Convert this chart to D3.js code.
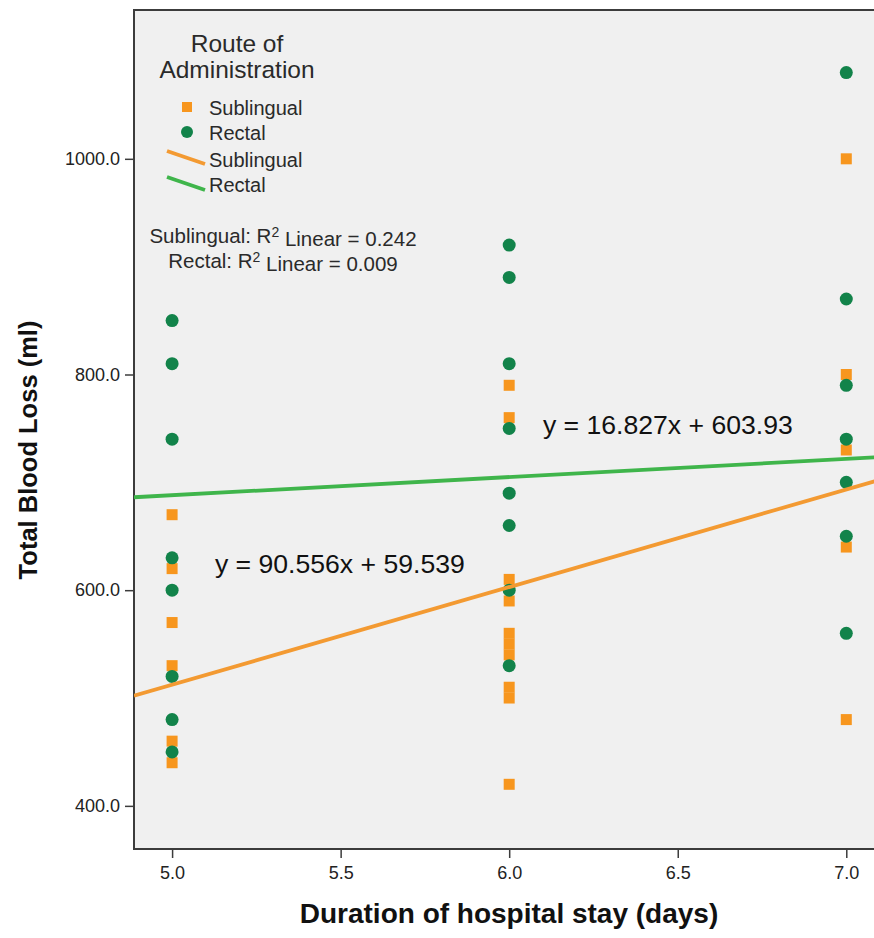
<!DOCTYPE html>
<html>
<head>
<meta charset="utf-8">
<script src="https://cdn.jsdelivr.net/npm/d3@7"></script>
<style>
  html, body { margin: 0; padding: 0; background: #fff; }
  svg { display: block; font-family: "Liberation Sans", Arial, sans-serif; }
</style>
</head>
<body>
<svg id="chart"></svg>
<script>
// values: [days, blood loss ml]
const sublingualPoints = [
  [5, 670], [5, 620], [5, 570], [5, 530], [5, 460], [5, 440],
  [6, 790], [6, 760], [6, 610], [6, 590], [6, 560], [6, 550], [6, 540], [6, 510], [6, 500], [6, 420],
  [7, 1000], [7, 800], [7, 730], [7, 640], [7, 480],
];
const rectalPoints = [
  [5, 850], [5, 810], [5, 740], [5, 630], [5, 600], [5, 520], [5, 480], [5, 450],
  [6, 920], [6, 890], [6, 810], [6, 750], [6, 690], [6, 660], [6, 600], [6, 530],
  [7, 1080], [7, 870], [7, 790], [7, 740], [7, 700], [7, 650], [7, 560],
];
const groups = ['Sublingual', 'Rectal'];
const fitSlopes = [90.556, 16.827];
const fitIntercepts = [59.539, 603.93];
const rSquared = ['0.242', '0.009'];
const xTicks = [5.0, 5.5, 6.0, 6.5, 7.0];
const yTicks = [400, 600, 800, 1000];

const width = 874, height = 938;
const plot = { left: 134, top: 10, right: 890, bottom: 849 };
const orange = '#f7961e', green = '#12834a';
const lineColors = ['#f39a32', '#3fb54b'];

const svg = d3.select('#chart').attr('width', width).attr('height', height);
svg.append('rect').attr('width', width).attr('height', height).attr('fill', '#fff');

const x = d3.scaleLinear([4.887, 7.1], [plot.left, 880]);
const y = d3.scaleLinear([360, 1138], [plot.bottom, plot.top]);

svg.append('rect').attr('x', plot.left).attr('y', plot.top)
  .attr('width', plot.right - plot.left).attr('height', plot.bottom - plot.top)
  .attr('fill', '#f0f0f0').attr('stroke', '#3c3c3c').attr('stroke-width', 2);

svg.append('defs').append('clipPath').attr('id', 'clip')
  .append('rect').attr('x', plot.left).attr('y', plot.top)
  .attr('width', plot.right - plot.left).attr('height', plot.bottom - plot.top);

// axes
const xAxis = svg.append('g').attr('transform', `translate(0,${plot.bottom})`)
  .call(d3.axisBottom(x).tickValues(xTicks).tickFormat(d3.format('.1f')).tickSize(9).tickPadding(8).tickSizeOuter(0));
const yAxis = svg.append('g').attr('transform', `translate(${plot.left},0)`)
  .call(d3.axisLeft(y).tickValues(yTicks).tickFormat(d3.format('.1f')).tickSize(9).tickPadding(5).tickSizeOuter(0));
[xAxis, yAxis].forEach((a) => {
  a.select('.domain').remove();
  a.attr('font-size', 18).attr('font-family', '"Liberation Sans", Arial, sans-serif');
  a.selectAll('line').attr('stroke', '#3c3c3c').attr('stroke-width', 1.5);
  a.selectAll('text').attr('fill', '#222');
});

svg.append('text').attr('x', 509).attr('y', 923).attr('text-anchor', 'middle')
  .attr('font-weight', 'bold').attr('font-size', 28).attr('fill', '#111')
  .text('Duration of hospital stay (days)');
svg.append('text').attr('transform', 'translate(37,450) rotate(-90)').attr('text-anchor', 'middle')
  .attr('font-weight', 'bold').attr('font-size', 25.5).attr('fill', '#111')
  .text('Total Blood Loss (ml)');

// points
const marks = svg.append('g').attr('clip-path', 'url(#clip)');
marks.append('g').selectAll('rect').data(sublingualPoints).join('rect')
  .attr('x', (d) => x(d[0]) - 5.5).attr('y', (d) => y(d[1]) - 5.5)
  .attr('width', 11).attr('height', 11).attr('fill', orange);
marks.append('g').selectAll('circle').data(rectalPoints).join('circle')
  .attr('cx', (d) => x(d[0])).attr('cy', (d) => y(d[1])).attr('r', 6.5).attr('fill', green);

// fit lines
const [x0, x1] = x.domain();
marks.append('g').selectAll('line').data(groups).join('line')
  .attr('x1', x(x0)).attr('x2', x(x1))
  .attr('y1', (d, i) => y(fitSlopes[i] * x0 + fitIntercepts[i]))
  .attr('y2', (d, i) => y(fitSlopes[i] * x1 + fitIntercepts[i]))
  .attr('stroke', (d, i) => lineColors[i]).attr('stroke-width', 3.8);

// equations
const eqPos = [[5.127, 625], [6.1, 753]];
svg.append('g').selectAll('text').data(groups).join('text')
  .attr('x', (d, i) => x(eqPos[i][0])).attr('y', (d, i) => y(eqPos[i][1])).attr('dy', '0.35em')
  .attr('font-size', 26.6).attr('fill', '#111')
  .text((d, i) => `y = ${fitSlopes[i]}x + ${fitIntercepts[i]}`);

// legend
const lg = svg.append('g').attr('fill', '#2a2a2a');
lg.append('text').attr('x', 237).attr('y', 43).attr('dy', '0.35em').attr('text-anchor', 'middle').attr('font-size', 24.5).text('Route of');
lg.append('text').attr('x', 237).attr('y', 69).attr('dy', '0.35em').attr('text-anchor', 'middle').attr('font-size', 24.5).text('Administration');
lg.append('rect').attr('x', 182).attr('y', 102).attr('width', 10).attr('height', 10).attr('fill', orange);
lg.append('circle').attr('cx', 187).attr('cy', 132).attr('r', 6).attr('fill', green);
lg.append('line').attr('x1', 167).attr('y1', 151).attr('x2', 205).attr('y2', 164).attr('stroke', lineColors[0]).attr('stroke-width', 3.8);
lg.append('line').attr('x1', 167).attr('y1', 177).attr('x2', 205).attr('y2', 190).attr('stroke', lineColors[1]).attr('stroke-width', 3.8);
const itemY = [108, 133, 160, 185];
const itemText = [groups[0], groups[1], groups[0], groups[1]];
lg.selectAll('text.item').data(itemText).join('text').attr('class', 'item')
  .attr('x', 209).attr('y', (d, i) => itemY[i]).attr('dy', '0.35em').attr('font-size', 20).text((d) => d);

// R squared notes
groups.forEach((g, i) => {
  const t = lg.append('text').attr('x', 283).attr('y', 236 + i * 25).attr('dy', '0.35em')
    .attr('text-anchor', 'middle').attr('font-size', 20.5);
  t.append('tspan').text(`${g}: R`);
  t.append('tspan').attr('dy', '-0.45em').attr('font-size', 14).text('2');
  t.append('tspan').attr('dy', '0.45em').text(` Linear = ${rSquared[i]}`);
});
</script>
</body>
</html>
